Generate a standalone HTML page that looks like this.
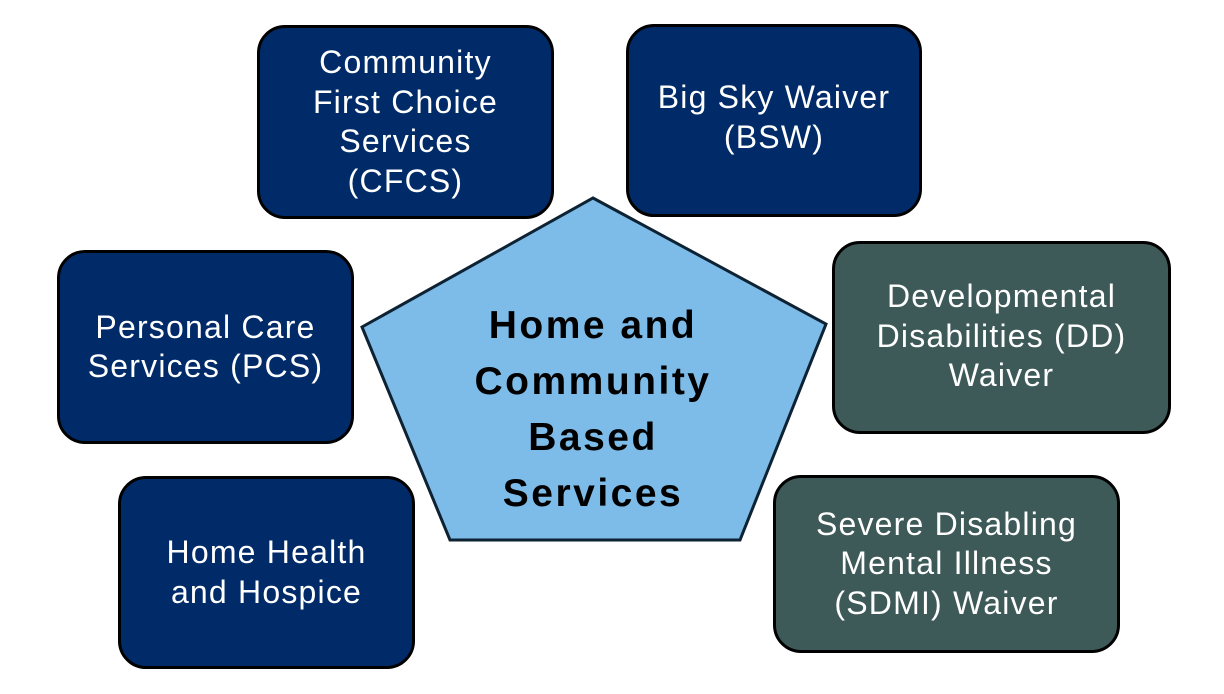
<!DOCTYPE html>
<html><head><style>
body{margin:0;width:1224px;height:694px;background:#fff;position:relative;overflow:hidden;font-family:"Liberation Sans",sans-serif}
.b{position:absolute;box-sizing:border-box;border:3px solid #000;border-radius:28px;background:#002b68;color:#fff;display:flex;align-items:center;justify-content:center;text-align:center;font-size:32px;letter-spacing:1.2px;line-height:39.5px;white-space:nowrap}
.g{background:#3d5a58}
svg{position:absolute;left:0;top:0}
.c{position:absolute;left:393px;top:298px;width:400px;text-align:center;font-weight:bold;font-size:39px;letter-spacing:2.5px;line-height:56px;color:#000}
</style></head><body>
<svg width="1224" height="694"><polygon points="593,198 826,324 740,540 450,540 362,327" fill="#7dbbe8" stroke="#0d2233" stroke-width="3"/></svg>
<div class="c">Home and<br>Community<br>Based<br>Services</div>
<div class="b" style="left:257px;top:25px;width:297px;height:194px">Community<br>First Choice<br>Services<br>(CFCS)</div>
<div class="b" style="left:626px;top:24px;width:296px;height:193px;padding-bottom:6px">Big Sky Waiver<br>(BSW)</div>
<div class="b" style="left:57px;top:250px;width:297px;height:194px">Personal Care<br>Services (PCS)</div>
<div class="b g" style="left:832px;top:241px;width:339px;height:193px;padding-bottom:2px">Developmental<br>Disabilities (DD)<br>Waiver</div>
<div class="b" style="left:118px;top:476px;width:297px;height:193px">Home Health<br>and Hospice</div>
<div class="b g" style="left:773px;top:475px;width:347px;height:178px">Severe Disabling<br>Mental Illness<br>(SDMI) Waiver</div>
</body></html>
